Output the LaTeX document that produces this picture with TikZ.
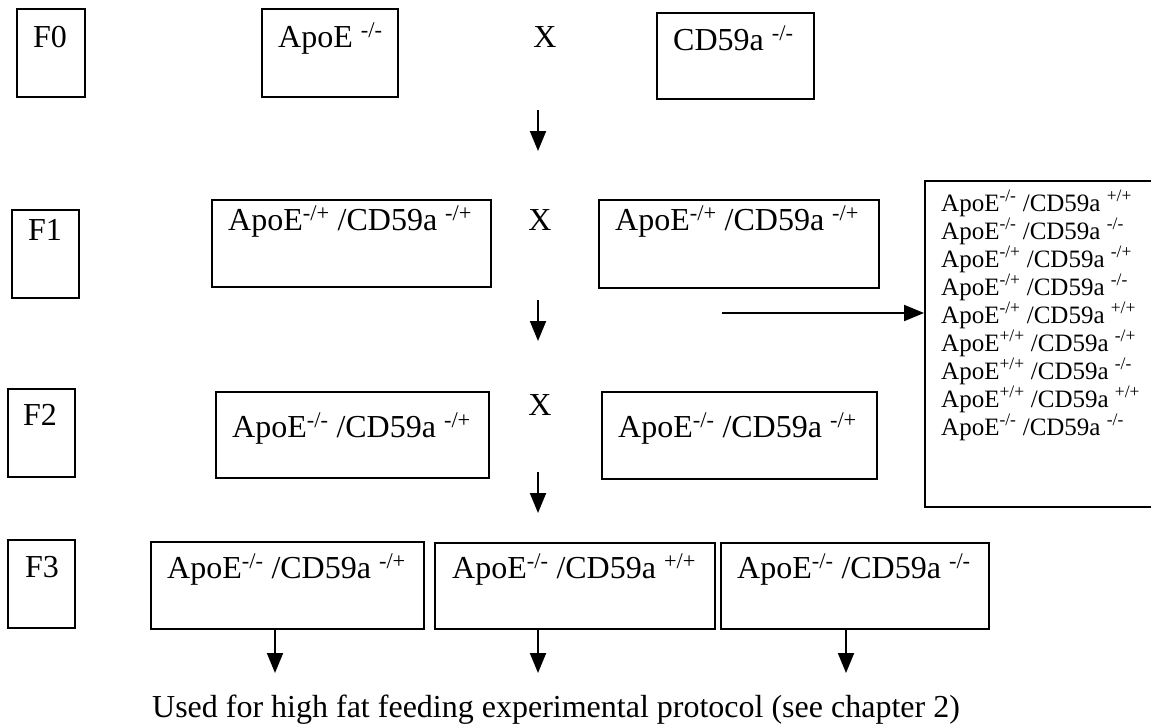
\documentclass[tikz,border=0pt]{standalone}
\usepackage{fontspec}
\setmainfont{Liberation Serif}
\usetikzlibrary{arrows.meta,fit}
\newcommand\gsup[1]{\textsuperscript{#1}}
\begin{document}
\begin{tikzpicture}[x=1pt,y=-1pt,
  box/.style={draw, line width=1.9pt, rectangle, inner sep=0pt},
  lbl/.style={anchor=base west, inner sep=0pt, font=\fontsize{32}{38}\selectfont},
  small/.style={anchor=base west, inner sep=0pt, font=\fontsize{25}{28}\selectfont},
  arr/.style={line width=1.9pt, -{Triangle[width=16pt,length=20pt]}}]
\useasboundingbox (0,0) rectangle (1151,726);

% generation labels
\node[box, fit={(17,9) (85,97)}] (g0) {};
\node[box, fit={(12,210) (79,298)}] (g1) {};
\node[box, fit={(8,389) (75,477)}] (g2) {};
\node[box, fit={(8,540) (75,628)}] (g3) {};
\node[lbl] (g0t) at (33,47) {F0};
\node[lbl] (g1t) at (28,240) {F1};
\node[lbl] (g2t) at (23,425) {F2};
\node[lbl] (g3t) at (25,577) {F3};

% F0 cross
\node[box, fit={(262,9) (398,97)}] (p0a) {};
\node[box, fit={(657,13) (814,99)}] (p0b) {};
\node[lbl] (p0at) at (278,47) {ApoE \gsup{-/-}};
\node[lbl] (p0bt) at (673,50) {CD59a \gsup{-/-}};
\node[lbl, anchor=base] (x0) at (545,47) {X};

% F1 cross
\node[box, fit={(212,200) (491,287)}] (p1a) {};
\node[box, fit={(599,200) (879,288)}] (p1b) {};
\node[lbl] (p1at) at (228,230) {ApoE\gsup{-/+} /CD59a \gsup{-/+}};
\node[lbl] (p1bt) at (615,230) {ApoE\gsup{-/+} /CD59a \gsup{-/+}};
\node[lbl, anchor=base] (x1) at (540,230) {X};

% F2 cross
\node[box, fit={(216,392) (489,478)}] (p2a) {};
\node[box, fit={(602,392) (877,479)}] (p2b) {};
\node[lbl] (p2at) at (232,437) {ApoE\gsup{-/-} /CD59a \gsup{-/+}};
\node[lbl] (p2bt) at (618,437) {ApoE\gsup{-/-} /CD59a \gsup{-/+}};
\node[lbl, anchor=base] (x2) at (540,415) {X};

% F3 offspring
\node[box, fit={(151,542) (424,629)}] (o1) {};
\node[box, fit={(435,543) (715,629)}] (o2) {};
\node[box, fit={(721,543) (989,629)}] (o3) {};
\node[lbl] (o1t) at (167,578) {ApoE\gsup{-/-} /CD59a \gsup{-/+}};
\node[lbl] (o2t) at (452,578) {ApoE\gsup{-/-} /CD59a \gsup{+/+}};
\node[lbl] (o3t) at (737,578) {ApoE\gsup{-/-} /CD59a \gsup{-/-}};

% possible F2 genotypes
\node[box, fit={(925,181) (1170,507)}] (gen) {};
\foreach \a/\b [count=\i] in {{-/-}/{+/+}, {-/-}/{-/-}, {-/+}/{-/+},
                               {-/+}/{-/-}, {-/+}/{+/+}, {+/+}/{-/+},
                               {+/+}/{-/-}, {+/+}/{+/+}, {-/-}/{-/-}}{
  \node[small] (gl\i) at (941,{211+28*(\i-1)}) {ApoE\gsup{\a} /CD59a \gsup{\b}};
}

% outcome text
\node[lbl, anchor=base] (use) at (556,717)
  {Used for high fat feeding experimental protocol (see chapter 2)};

% arrows
\coordinate (a0s) at (538,110); \coordinate (a0e) at (538,151);
\coordinate (a1s) at (538,300); \coordinate (a1e) at (538,341);
\coordinate (a2s) at (538,472); \coordinate (a2e) at (538,513);
\coordinate (hs) at (722,313);
\draw[arr] (a0s) -- (a0e);
\draw[arr] (a1s) -- (a1e);
\draw[arr] (a2s) -- (a2e);
\draw[arr] (hs) -- (hs -| gen.west);
\draw[arr] (o1.south -| 275,0) -- (275,673);
\draw[arr] (o2.south -| 538,0) -- (538,673);
\draw[arr] (o3.south -| 846,0) -- (846,673);
\end{tikzpicture}
\end{document}
